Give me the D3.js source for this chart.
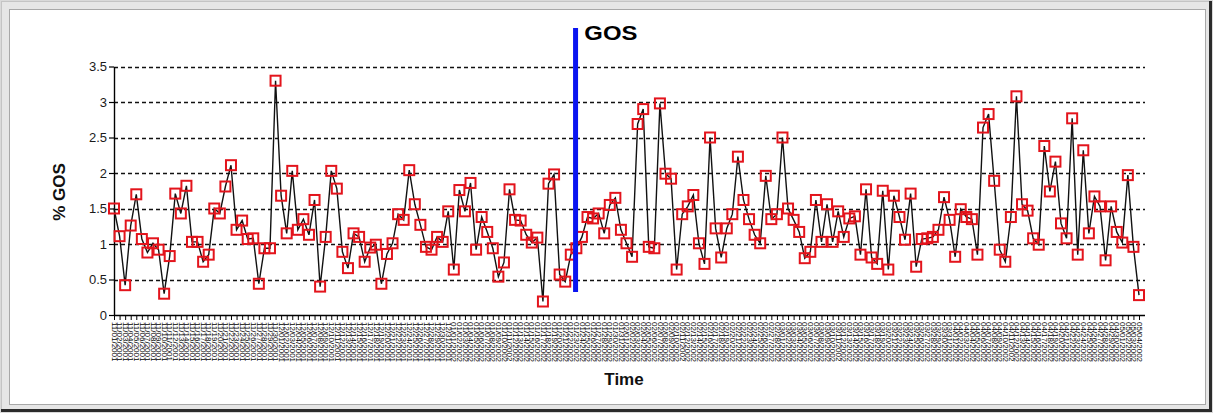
<!DOCTYPE html>
<html>
<head>
<meta charset="utf-8">
<script src="https://cdn.jsdelivr.net/npm/d3@7"></script>
<style>
    body { margin: 0; padding: 0; background: #ffffff; }
    svg { display: block; }
</style>
</head>
<body>
<div id="chart"></div>
<script>

// % GOS readings, one per time sample
var gosValues = [
    1.50, 1.11, 0.42, 1.26, 1.70, 1.07, 0.88, 1.01, 0.92, 0.30,
    0.83, 1.71, 1.43, 1.82, 1.03, 1.03, 0.75, 0.85, 1.50, 1.43,
    1.81, 2.11, 1.20, 1.33, 1.07, 1.08, 0.44, 0.94, 0.94, 3.30,
    1.68, 1.15, 2.03, 1.20, 1.35, 1.13, 1.62, 0.40, 1.10, 2.03,
    1.78, 0.89, 0.66, 1.15, 1.10, 0.75, 0.95, 0.99, 0.44, 0.86,
    1.01, 1.42, 1.34, 2.04, 1.56, 1.27, 0.96, 0.92, 1.10, 1.03,
    1.46, 0.64, 1.76, 1.46, 1.86, 0.92, 1.38, 1.17, 0.94, 0.54,
    0.74, 1.77, 1.34, 1.33, 1.13, 1.02, 1.09, 0.19, 1.85, 1.98,
    0.57, 0.47, 0.85, 0.94, 1.10, 1.38, 1.36, 1.43, 1.15, 1.55,
    1.65, 1.20, 1.01, 0.82, 2.69, 2.90, 0.96, 0.94, 2.98, 1.99,
    1.92, 0.64, 1.42, 1.53, 1.69, 1.01, 0.72, 2.50, 1.22, 0.81,
    1.22, 1.42, 2.23, 1.62, 1.35, 1.13, 1.01, 1.96, 1.35, 1.42,
    2.50, 1.50, 1.34, 1.17, 0.80, 0.89, 1.62, 1.03, 1.56, 1.03,
    1.46, 1.10, 1.36, 1.39, 0.85, 1.77, 0.81, 0.72, 1.75, 0.64,
    1.68, 1.38, 1.06, 1.71, 0.68, 1.07, 1.08, 1.10, 1.20, 1.66,
    1.34, 0.82, 1.49, 1.38, 1.35, 0.85, 2.64, 2.83, 1.89, 0.92,
    0.75, 1.38, 3.08, 1.56, 1.47, 1.08, 0.99, 2.38, 1.74, 2.16,
    1.29, 1.08, 2.77, 0.85, 2.32, 1.15, 1.67, 1.53, 0.77, 1.53,
    1.17, 1.02, 1.97, 0.96, 0.28
];

// sample times (one per reading)
var startTime = new Date(2001, 10, 1);
var timeLabels = gosValues.map(function (d, i) {
    return d3.timeFormat("%m/%d/%Y")(d3.timeDay.offset(startTime, i));
});

var yTicks = [0, 0.5, 1, 1.5, 2, 2.5, 3, 3.5];
var yGrid = [0.5, 1, 1.5, 2, 2.5, 3, 3.5];

// event marker
var eventIndex = [83];
var eventLabel = ["GOS"];

var width = 1213, height = 413;
var plotLeft = 114, plotRight = 1145, pointsRight = 1139;
var plotTop = 66.5, plotBottom = 315;
var font = "'Liberation Sans', Arial, sans-serif";

var svg = d3.select("#chart").append("svg")
    .attr("width", width)
    .attr("height", height);

// window frame
svg.append("rect")
    .attr("x", 0).attr("y", 0)
    .attr("width", width).attr("height", height)
    .style("fill", "#d9d9d9");
svg.append("rect")
    .attr("x", 1.5).attr("y", 1.5)
    .attr("width", width - 3).attr("height", height - 3)
    .style("fill", "#e6e6e6")
    .style("stroke", "#c4c4c4")
    .style("stroke-width", 1);
svg.append("rect")
    .attr("x", 9.5).attr("y", 9.5)
    .attr("width", 1196).attr("height", 395)
    .style("fill", "#ffffff")
    .style("stroke", "#a8a8a8")
    .style("stroke-width", 1);
svg.append("path")
    .attr("d", "M1210.5,1V410.5H1")
    .style("fill", "none")
    .style("stroke", "#2b2b2b")
    .style("stroke-width", 3);

var x = d3.scalePoint()
    .domain(d3.range(gosValues.length))
    .range([plotLeft, pointsRight]);

var y = d3.scaleLinear()
    .domain([0, 3.5])
    .range([plotBottom, plotTop]);

// dashed grid
svg.selectAll(".grid").data(yGrid).enter().append("line")
    .classed("grid", true)
    .attr("x1", plotLeft)
    .attr("x2", plotRight)
    .attr("y1", function (d) { return Math.round(y(d)) + 0.5; })
    .attr("y2", function (d) { return Math.round(y(d)) + 0.5; })
    .style("stroke", "#111")
    .style("stroke-width", 1.4)
    .style("stroke-dasharray", "4,3");

// y axis
var yAxis = svg.append("g")
    .attr("transform", "translate(" + plotLeft + ",0)")
    .call(d3.axisLeft(y).tickValues(yTicks).tickSize(5).tickSizeOuter(0)
        .tickFormat(d3.format("")));
yAxis.select(".domain").style("stroke", "#000").style("stroke-width", 1.4);
yAxis.selectAll(".tick line").style("stroke", "#000").style("stroke-width", 1.2);
yAxis.selectAll(".tick text")
    .attr("x", -7)
    .style("font", "13px " + font)
    .style("fill", "#1a1a1a");

// x axis
var xAxis = svg.append("g")
    .attr("transform", "translate(0," + plotBottom + ")")
    .call(d3.axisBottom(x).tickSize(5).tickSizeOuter(0)
        .tickFormat(function (i) { return timeLabels[i]; }));
xAxis.select(".domain").remove();
xAxis.selectAll(".tick line").style("stroke", "#000").style("stroke-width", 1);
xAxis.selectAll(".tick text")
    .attr("transform", "rotate(90)")
    .attr("x", 7)
    .attr("y", 0)
    .attr("dy", "0.35em")
    .style("text-anchor", "start")
    .style("font", "8px " + font)
    .style("fill", "#000");
svg.append("line")
    .attr("x1", plotLeft).attr("x2", plotRight)
    .attr("y1", plotBottom + 0.5).attr("y2", plotBottom + 0.5)
    .style("stroke", "#000")
    .style("stroke-width", 1.4);

// series line
var line = d3.line()
    .x(function (d, i) { return x(i); })
    .y(function (d) { return y(d); });

svg.append("path")
    .datum(gosValues)
    .attr("d", line)
    .style("fill", "none")
    .style("stroke", "#111")
    .style("stroke-width", 1.4);

// markers
var boxSize = 10;
svg.selectAll(".pt").data(gosValues).enter().append("rect")
    .classed("pt", true)
    .attr("x", function (d, i) { return x(i) - boxSize / 2; })
    .attr("y", function (d) { return y(d) - boxSize / 2; })
    .attr("width", boxSize)
    .attr("height", boxSize)
    .style("fill", "none")
    .style("stroke", "#e3141c")
    .style("stroke-width", 2);

// event line
svg.selectAll(".event").data(eventIndex).enter().append("line")
    .classed("event", true)
    .attr("x1", function (d) { return x(d) - 0.8; })
    .attr("x2", function (d) { return x(d) - 0.8; })
    .attr("y1", 28)
    .attr("y2", 292)
    .style("stroke", "#0a14f0")
    .style("stroke-width", 5);

svg.selectAll(".eventTxt").data(eventIndex).enter().append("text")
    .classed("eventTxt", true)
    .attr("x", function (d) { return x(d) + 8; })
    .attr("y", 40)
    .text(function (d, i) { return eventLabel[i]; })
    .attr("textLength", 53)
    .attr("lengthAdjust", "spacingAndGlyphs")
    .style("font", "bold 20px " + font)
    .style("fill", "#000");

// axis titles
svg.append("text")
    .attr("transform", "translate(65,192) rotate(-90)")
    .style("text-anchor", "middle")
    .style("font", "bold 17px " + font)
    .style("fill", "#111")
    .text("% GOS");

svg.append("text")
    .attr("x", 624)
    .attr("y", 385)
    .style("text-anchor", "middle")
    .style("font", "bold 17px " + font)
    .style("fill", "#111")
    .text("Time");

</script>
</body>
</html>
